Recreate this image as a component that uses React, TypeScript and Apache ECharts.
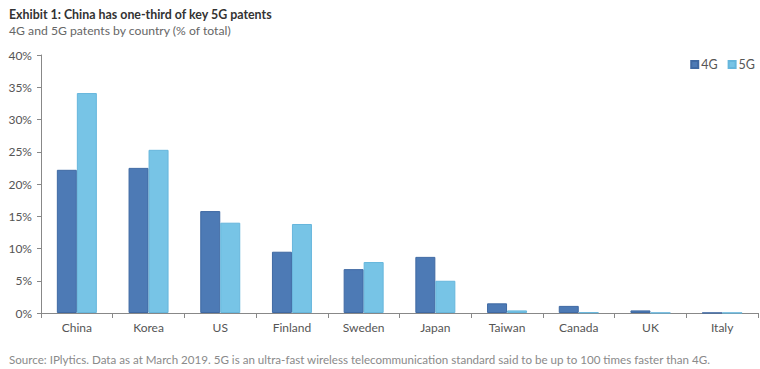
import React, { useEffect, useRef } from "react";
import * as echarts from "echarts";

const categories = ["China", "Korea", "US", "Finland", "Sweden", "Japan", "Taiwan", "Canada", "UK", "Italy"];
const values4G = [22.2, 22.5, 15.8, 9.5, 6.8, 8.7, 1.5, 1.1, 0.4, 0.02];
const values5G = [34.1, 25.3, 14.0, 13.8, 7.9, 5.0, 0.4, 0.1, 0.03, 0.02];
const yTicks = [0, 5, 10, 15, 20, 25, 30, 35, 40];

const FONT = "Lato";

export default function App() {
  const ref = useRef<HTMLDivElement>(null);
  useEffect(() => {
    if (!ref.current) return;
    const chart = echarts.init(ref.current, undefined, { renderer: "svg" });
    chart.setOption({
      animation: false,
      textStyle: { fontFamily: FONT },
      title: [
        {
          text: "Exhibit 1: China has one-third of key 5G patents",
          left: 4,
          top: 3,
          textStyle: { fontSize: 12.4, fontWeight: "bold", color: "#333", fontFamily: FONT },
        },
        {
          text: "4G and 5G patents by country (% of total)",
          left: 4,
          top: 19,
          textStyle: { fontSize: 12.2, fontWeight: "normal", color: "#666", fontFamily: FONT },
        },
        {
          text: "Source: IPlytics. Data as at March 2019. 5G is an ultra-fast wireless telecommunication standard said to be up to 100 times faster than 4G.",
          left: 4,
          top: 348,
          textStyle: { fontSize: 11.6, fontWeight: "normal", color: "#8a8a8a", fontFamily: FONT },
        },
      ],
      legend: {
        right: 0,
        top: 53,
        itemWidth: 7,
        itemHeight: 7,
        itemGap: 10,
        icon: "rect",
        textStyle: { fontSize: 12.5, color: "#555", fontFamily: FONT, padding: [0, 0, 0, -2] },
        data: ["4G", "5G"],
      },
      grid: { left: 41, right: 2, top: 55, bottom: 56 },
      xAxis: {
        type: "category",
        data: categories,
        axisLine: { lineStyle: { color: "#888" } },
        axisTick: { show: true, length: 5, lineStyle: { color: "#888" } },
        axisLabel: { color: "#555", fontSize: 12, margin: 8, fontFamily: FONT },
      },
      yAxis: {
        type: "value",
        min: 0,
        max: 40,
        interval: 5,
        axisLine: { show: true, lineStyle: { color: "#888" } },
        axisTick: { show: true, length: 4, lineStyle: { color: "#888" } },
        splitLine: { show: false },
        axisLabel: {
          color: "#555",
          fontSize: 12,
          margin: 9,
          fontFamily: FONT,
          formatter: (v: number) => (yTicks.includes(v) ? v + "%" : ""),
        },
      },
      series: [
        {
          name: "4G",
          type: "bar",
          data: values4G,
          barWidth: 20,
          barGap: "0%",
          itemStyle: { color: "#4d7ab5", borderColor: "#3f69a3", borderWidth: 1 },
        },
        {
          name: "5G",
          type: "bar",
          data: values5G,
          barWidth: 20,
          itemStyle: { color: "#77c4e6", borderColor: "#66b6dc", borderWidth: 1 },
        },
      ],
    });
    return () => chart.dispose();
  }, []);
  return <div ref={ref} style={{ width: 760, height: 369, position: "absolute", left: 0, top: 0, background: "#fff" }} />;
}
